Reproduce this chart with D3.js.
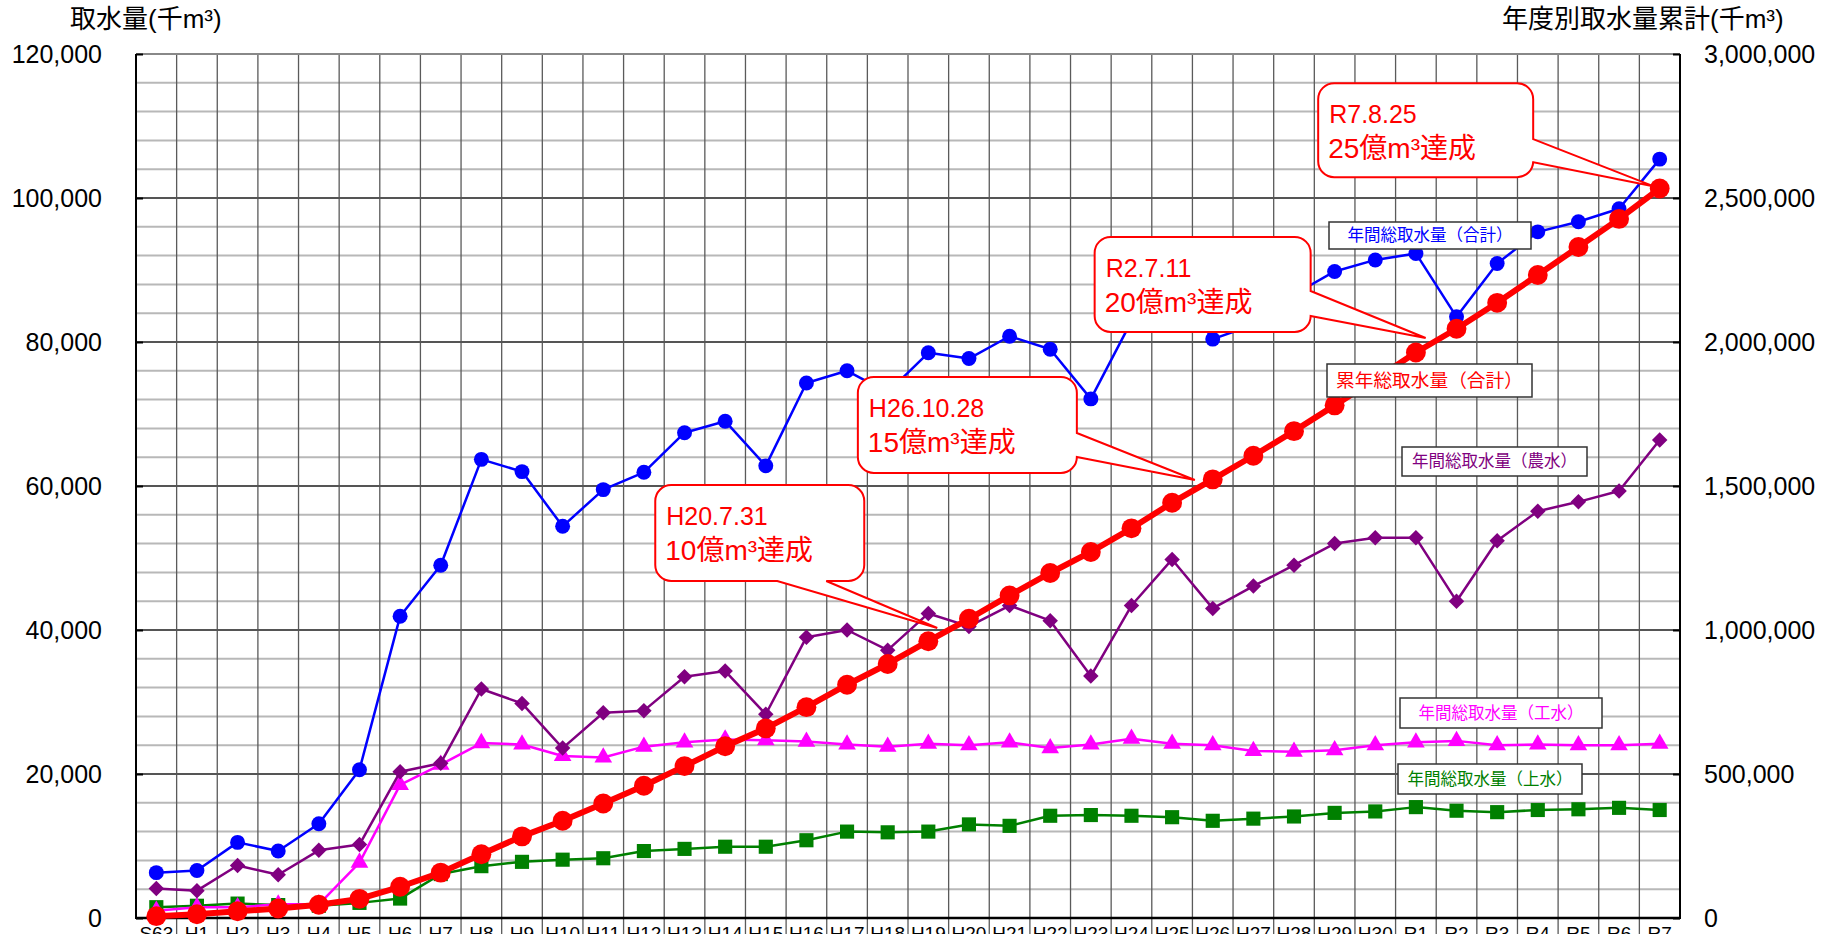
<!DOCTYPE html>
<html>
<head>
<meta charset="utf-8">
<script src="https://cdn.jsdelivr.net/npm/d3@7"></script>
<style>
    html, body {margin: 0; padding: 0; background: #fff; overflow: hidden;}
    svg {display: block;}
    .num {font-family: "Liberation Sans", Arial, sans-serif;}
    .jp {font-family: "Liberation Sans", "Noto Sans CJK JP", sans-serif;}
</style>
</head>
<body>
<script>
//fiscal years on the x axis
var years = ["S63", "H1", "H2", "H3", "H4", "H5", "H6", "H7", "H8", "H9", "H10",
    "H11", "H12", "H13", "H14", "H15", "H16", "H17", "H18", "H19", "H20",
    "H21", "H22", "H23", "H24", "H25", "H26", "H27", "H28", "H29", "H30",
    "R1", "R2", "R3", "R4", "R5", "R6", "R7"];

//annual intake total (thousand m3), left axis
var totalVals = [6300, 6600, 10500, 9300, 13100, 20600, 41900, 49000, 63700, 62000, 54400,
    59500, 61900, 67400, 69000, 62800, 74300, 76000, 73000, 78500, 77700,
    80800, 79000, 72100, 82900, 88500, 80400, 82400, 86600, 89800, 91400,
    92300, 83500, 90900, 95300, 96700, 98500, 105400];

//agriculture
var agriVals = [4100, 3800, 7300, 6000, 9400, 10200, 20300, 21500, 31800, 29800, 23600,
    28500, 28800, 33500, 34300, 28300, 39000, 40000, 37200, 42300, 40500,
    43400, 41300, 33600, 43400, 49800, 43000, 46100, 49000, 52000, 52800,
    52800, 44000, 52400, 56500, 57800, 59300, 66400];

//industry
var indVals = [1000, 1500, 1500, 1900, 1900, 7700, 18500, 21300, 24300, 24100, 22500,
    22300, 23800, 24400, 24800, 24700, 24500, 24100, 23800, 24200, 24000,
    24400, 23600, 24100, 24900, 24200, 24000, 23200, 23100, 23300, 24000,
    24400, 24600, 24000, 24100, 24000, 24000, 24200];

//drinking water
var waterVals = [1500, 1700, 2000, 1800, 1700, 2100, 2700, 6100, 7200, 7800, 8100,
    8300, 9300, 9600, 9900, 9900, 10800, 12000, 11900, 12000, 13000,
    12800, 14200, 14300, 14200, 14000, 13500, 13800, 14100, 14600, 14800,
    15400, 14900, 14700, 15000, 15100, 15300, 15000];

//cumulative total (thousand m3), right axis
var cumVals = [6300, 12900, 23400, 32800, 46000, 66500, 108500, 157500, 221500, 283500, 337500,
    397500, 459000, 527500, 596500, 658500, 732000, 810000, 882000, 961000, 1039000,
    1120000, 1198000, 1271000, 1353000, 1442000, 1523000, 1605000, 1690500, 1780000, 1870500,
    1963500, 2046000, 2136000, 2232500, 2330000, 2427500, 2533000];

//axis ticks
var leftTicks = [0, 20000, 40000, 60000, 80000, 100000, 120000];
var rightTicks = [0, 500000, 1000000, 1500000, 2000000, 2500000, 3000000];

//milestone callouts: date, text, where the pointer lands (year index, cumulative value)
var milestoneDates = ["H20.7.31", "H26.10.28", "R2.7.11", "R7.8.25"];
var milestoneTexts = ["10億m³達成", "15億m³達成", "20億m³達成", "25億m³達成"];
var milestoneIdx = [19.22, 25.56, 31.24, 36.84];
var milestoneVals = [1007000, 1521000, 2014000, 2541000];

//series label texts
var seriesNames = ["年間総取水量（合計）", "累年総取水量（合計）", "年間総取水量（農水）",
    "年間総取水量（工水）", "年間総取水量（上水）"];

window.onload = drawChart();

function drawChart() {
    var width = 1832, height = 934;
    var plot = {left: 136, right: 1680, top: 54, bottom: 918};

    var svg = d3.select("body").append("svg")
        .attr("width", width)
        .attr("height", height);

    var x = d3.scaleBand()
        .domain(years)
        .range([plot.left, plot.right])
        .padding(0);
    var bw = x.bandwidth();
    //x position of a (possibly fractional) year index
    function xAt(i) { return plot.left + (i + 0.5) * bw; }

    var yL = d3.scaleLinear().domain([0, 120000]).range([plot.bottom, plot.top]);
    var yR = d3.scaleLinear().domain([0, 3000000]).range([plot.bottom, plot.top]);

    //minor horizontal grid every 4,000
    var grid = svg.append("g").attr("class", "grid");
    grid.selectAll(".minor")
        .data(d3.range(0, 120001, 4000).filter(function(d) { return d % 20000 !== 0; }))
        .enter().append("line")
        .attr("x1", plot.left).attr("x2", plot.right)
        .attr("y1", function(d) { return yL(d); })
        .attr("y2", function(d) { return yL(d); })
        .attr("stroke", "#b8b8b8")
        .attr("stroke-width", 2);

    //vertical lines at the year boundaries, running down through the label row
    grid.selectAll(".vline")
        .data(years.slice(1))
        .enter().append("line")
        .attr("x1", function(d) { return x(d); })
        .attr("x2", function(d) { return x(d); })
        .attr("y1", plot.top).attr("y2", height)
        .attr("stroke", "#5a5a5a")
        .attr("stroke-width", 1.3);

    //major horizontal grid
    grid.selectAll(".major")
        .data(leftTicks.slice(1, -1))
        .enter().append("line")
        .attr("x1", plot.left).attr("x2", plot.right)
        .attr("y1", function(d) { return yL(d); })
        .attr("y2", function(d) { return yL(d); })
        .attr("stroke", "#555")
        .attr("stroke-width", 2);

    //frame
    svg.append("line")
        .attr("x1", plot.left).attr("x2", plot.right)
        .attr("y1", plot.top).attr("y2", plot.top)
        .attr("stroke", "#888").attr("stroke-width", 2);
    svg.append("line")
        .attr("x1", plot.left).attr("x2", plot.left)
        .attr("y1", plot.top).attr("y2", plot.bottom + 1)
        .attr("stroke", "#000").attr("stroke-width", 2);
    svg.append("line")
        .attr("x1", plot.right).attr("x2", plot.right)
        .attr("y1", plot.top).attr("y2", plot.bottom + 1)
        .attr("stroke", "#000").attr("stroke-width", 2);
    svg.append("line")
        .attr("x1", plot.left).attr("x2", plot.right)
        .attr("y1", plot.bottom).attr("y2", plot.bottom)
        .attr("stroke", "#000").attr("stroke-width", 2.5);

    //axes
    var leftAxis = svg.append("g")
        .attr("class", "num")
        .attr("transform", "translate(" + plot.left + ",0)")
        .call(d3.axisLeft(yL).tickValues(leftTicks).tickFormat(d3.format(","))
            .tickSizeInner(-7).tickSizeOuter(0).tickPadding(34));
    var rightAxis = svg.append("g")
        .attr("class", "num")
        .attr("transform", "translate(" + plot.right + ",0)")
        .call(d3.axisRight(yR).tickValues(rightTicks).tickFormat(d3.format(","))
            .tickSizeInner(-7).tickSizeOuter(0).tickPadding(24));
    var bottomAxis = svg.append("g")
        .attr("class", "num")
        .attr("transform", "translate(0," + plot.bottom + ")")
        .call(d3.axisBottom(x).tickSize(0).tickPadding(9));

    [leftAxis, rightAxis, bottomAxis].forEach(function(a) {
        a.select(".domain").remove();
        a.selectAll("line").attr("stroke", "#000").attr("stroke-width", 2);
        a.selectAll("text").attr("fill", "#000").style("font-size", "25px");
    });
    bottomAxis.selectAll("text").style("font-size", "19px");

    //axis titles
    svg.append("text")
        .attr("class", "jp")
        .attr("x", 70).attr("y", 28)
        .style("font-size", "26px")
        .text("取水量(千m³)");
    svg.append("text")
        .attr("class", "jp")
        .attr("x", 1502).attr("y", 28)
        .style("font-size", "26px")
        .text("年度別取水量累計(千m³)");

    //series: values, scale, colour, width, marker
    var series = [
        {vals: waterVals, y: yL, color: "#008000", w: 2.5, sym: d3.symbolSquare, size: 200, rot: 0},
        {vals: indVals, y: yL, color: "#ff00ff", w: 2.5, sym: d3.symbolTriangle, size: 135, rot: 0},
        {vals: agriVals, y: yL, color: "#800080", w: 2.5, sym: d3.symbolSquare, size: 120, rot: 45},
        {vals: totalVals, y: yL, color: "#0000ff", w: 2.5, sym: d3.symbolCircle, size: 175, rot: 0},
        {vals: cumVals, y: yR, color: "#ff0000", w: 6, sym: d3.symbolCircle, size: 310, rot: 0}
    ];

    series.forEach(function(s) {
        var line = d3.line()
            .x(function(d, i) { return xAt(i); })
            .y(function(d) { return s.y(d); });
        var g = svg.append("g");
        g.append("path")
            .datum(s.vals)
            .attr("d", line)
            .attr("fill", "none")
            .attr("stroke", s.color)
            .attr("stroke-width", s.w)
            .attr("stroke-linejoin", "round");
        g.selectAll(".pt")
            .data(s.vals)
            .enter().append("path")
            .attr("d", d3.symbol().type(s.sym).size(s.size))
            .attr("transform", function(d, i) {
                return "translate(" + xAt(i) + "," + s.y(d) + ") rotate(" + s.rot + ")";
            })
            .attr("fill", s.color);
    });

    //series label boxes
    var labelBoxes = [
        {x: 1329, y: 222, w: 202, h: 27, color: "#0000ff", fs: 16.5},
        {x: 1327, y: 364, w: 205, h: 33, color: "#ff0000", fs: 18.7},
        {x: 1402, y: 447, w: 185, h: 29, color: "#800080", fs: 16.5},
        {x: 1400, y: 698, w: 202, h: 30, color: "#ff00ff", fs: 16.5},
        {x: 1398, y: 764, w: 184, h: 30, color: "#008000", fs: 16.5}
    ];
    labelBoxes.forEach(function(b, i) {
        svg.append("rect")
            .attr("x", b.x).attr("y", b.y)
            .attr("width", b.w).attr("height", b.h)
            .attr("fill", "#fff")
            .attr("stroke", "#333")
            .attr("stroke-width", 1.5);
        svg.append("text")
            .attr("class", "jp")
            .attr("x", b.x + b.w / 2)
            .attr("y", b.y + b.h / 2)
            .attr("dy", "0.36em")
            .attr("text-anchor", "middle")
            .attr("fill", b.color)
            .style("font-size", b.fs + "px")
            .text(seriesNames[i]);
    });

    //milestone callouts
    var calloutLayout = [
        {dx: -282, dy: -143, w: 209, h: 96, side: "bottom", a1: 122, a2: 171},
        {dx: -337, dy: -103, w: 219, h: 96, side: "right", a1: 56, a2: 80},
        {dx: -331, dy: -101, w: 216, h: 95, side: "right", a1: 54, a2: 79},
        {dx: -335, dy: -103, w: 215, h: 94, side: "right", a1: 56, a2: 79}
    ];

    function calloutPath(bx, by, w, h, r, c, tx, ty) {
        var p = "M" + (bx + r) + "," + by + "H" + (bx + w - r)
            + "A" + r + "," + r + " 0 0 1 " + (bx + w) + "," + (by + r);
        if (c.side === "right") {
            p += "V" + (by + c.a1) + "L" + tx + "," + ty + "L" + (bx + w) + "," + (by + c.a2);
        }
        p += "V" + (by + h - r) + "A" + r + "," + r + " 0 0 1 " + (bx + w - r) + "," + (by + h);
        if (c.side === "bottom") {
            p += "H" + (bx + c.a2) + "L" + tx + "," + ty + "L" + (bx + c.a1) + "," + (by + h);
        }
        p += "H" + (bx + r) + "A" + r + "," + r + " 0 0 1 " + bx + "," + (by + h - r)
            + "V" + (by + r) + "A" + r + "," + r + " 0 0 1 " + (bx + r) + "," + by + "Z";
        return p;
    }

    milestoneDates.forEach(function(date, i) {
        var c = calloutLayout[i];
        var tx = xAt(milestoneIdx[i]), ty = yR(milestoneVals[i]);
        var bx = tx + c.dx, by = ty + c.dy;
        svg.append("path")
            .attr("d", calloutPath(bx, by, c.w, c.h, 16, c, tx, ty))
            .attr("fill", "#fff")
            .attr("stroke", "#ff0000")
            .attr("stroke-width", 2);
        svg.append("text")
            .attr("class", "jp")
            .attr("x", bx + 11).attr("y", by + 40)
            .attr("fill", "#ff0000")
            .style("font-size", "25px")
            .text(date);
        svg.append("text")
            .attr("class", "jp")
            .attr("x", bx + 10).attr("y", by + 75)
            .attr("fill", "#ff0000")
            .style("font-size", "28px")
            .text(milestoneTexts[i]);
    });
}
</script>
</body>
</html>
